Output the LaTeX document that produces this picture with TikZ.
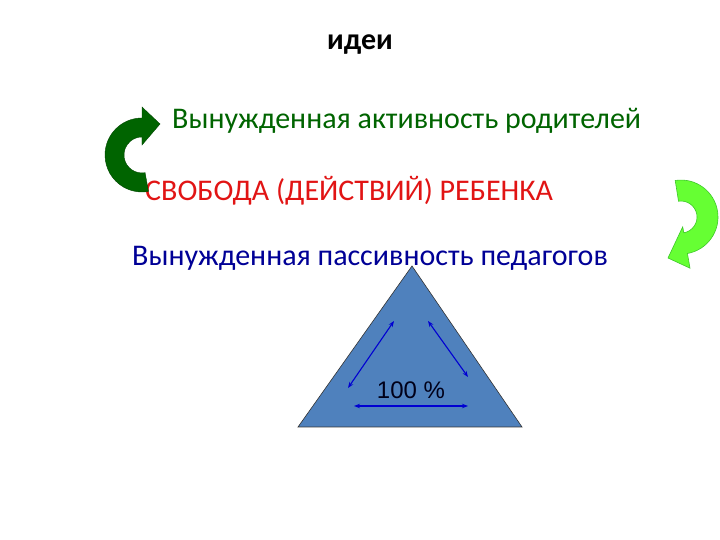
\documentclass[tikz,border=0pt]{standalone}
\usepackage{fontspec}
\setmainfont{Carlito}
\newfontfamily\arialfont{Liberation Sans}
\usetikzlibrary{arrows.meta}

\definecolor{ideagreen}{RGB}{0,100,0}
\definecolor{idealight}{RGB}{102,255,51}
\definecolor{idealightline}{RGB}{60,200,40}
\definecolor{ideared}{RGB}{225,20,20}
\definecolor{ideablue}{RGB}{0,0,150}
\definecolor{triblue}{RGB}{79,129,189}
\definecolor{arrowblue}{RGB}{0,0,210}

\begin{document}
\begin{tikzpicture}[x=1pt, y=1pt,
    slide text/.style={inner sep=0pt, anchor=base west, font=\fontsize{30}{36}\selectfont},
    twoway/.style={<->, >={Stealth[length=6pt, width=4.5pt]}, draw=arrowblue, line width=1.1pt}]
    \useasboundingbox (0,0) rectangle (720,540);

    % Title
    \node[inner sep=0pt, anchor=base, font=\bfseries\fontsize{30}{36}\selectfont] (title) at (360,490) {идеи};

    % The three statements
    \node[slide text, text=ideagreen] (parents) at (172,411) {Вынужденная активность родителей};
    \node[slide text, text=ideared] (freedom) at (145,339) {СВОБОДА (ДЕЙСТВИЙ) РЕБЕНКА};
    \node[slide text, text=ideablue] (teachers) at (132,274) {Вынужденная пассивность педагогов};

    % Dark green circular arrow (left)
    \fill[ideagreen, draw=ideagreen!70!black, line width=0.4pt]
        (142,422) arc[start angle=90, end angle=280, radius=37]
        -- (145.1,367.3) arc[start angle=280, end angle=90, radius=18]
        -- (142,395) -- (160,416) -- (142,433) -- cycle;

    % Light green circular arrow (right)
    \fill[idealight, draw=idealightline, line width=0.6pt]
        (675.2,359.5) arc[start angle=99, end angle=-80, radius=37]
        -- (690,271.8) -- (668,282) -- (682.7,313.2) -- (683.8,307.2)
        arc[start angle=-80, end angle=99, radius=16] -- cycle;

    % Triangle
    \coordinate (apex) at (412,274);
    \coordinate (baseL) at (298,113);
    \coordinate (baseR) at (522,113);
    \draw[fill=triblue, draw=black!80, line width=0.6pt] (apex) -- (baseL) -- (baseR) -- cycle;

    % Double arrows inside the triangle
    \coordinate (lowL) at (348,152);
    \coordinate (upL) at (394,219);
    \coordinate (upR) at (428,219);
    \coordinate (lowR) at (468,163);
    \coordinate (botL) at (354,134);
    \coordinate (botR) at (468,134);
    \draw[twoway] (lowL) -- (upL);
    \draw[twoway] (upR) -- (lowR);
    \draw[twoway] (botL) -- (botR);

    \node[inner sep=0pt, text=black!90!blue, font=\arialfont\fontsize{24}{28}\selectfont] (share) at (411,150) {100 \%};
\end{tikzpicture}
\end{document}
